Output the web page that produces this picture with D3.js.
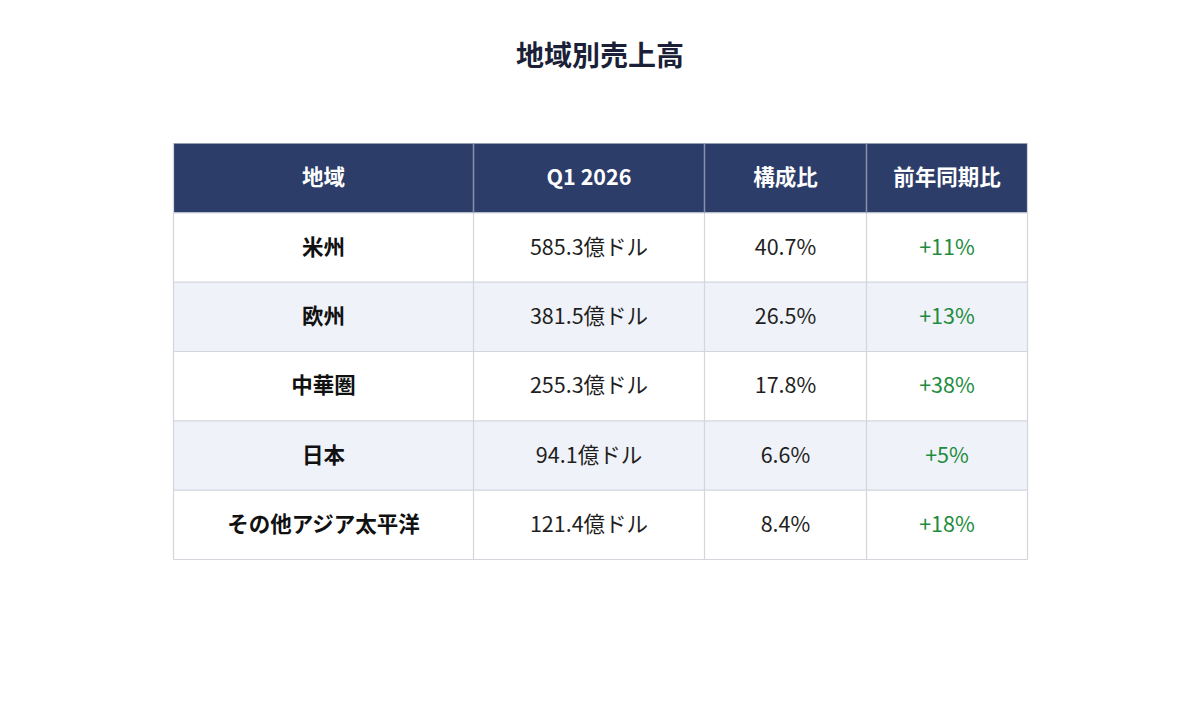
<!DOCTYPE html>
<html>
<head>
<meta charset="utf-8">
<script src="https://cdn.jsdelivr.net/npm/d3@7"></script>
<style>
  html, body { margin: 0; padding: 0; background: #fff; }
  svg { display: block; font-family: "Noto Sans CJK JP", "Noto Sans", sans-serif; }
</style>
</head>
<body>
<div id="chart"></div>
<script>
var headers = ["地域", "Q1 2026", "構成比", "前年同期比"];
var regions = ["米州", "欧州", "中華圏", "日本", "その他アジア太平洋"];
var sales = [585.3, 381.5, 255.3, 94.1, 121.4];
var shares = [40.7, 26.5, 17.8, 6.6, 8.4];
var growth = [11, 13, 38, 5, 18];

(function() {
  var width = 1200, height = 702;
  var tLeft = 173.5, tRight = 1027.5, tTop = 143.5, tBottom = 559.5;
  var colWidths = [300, 231, 162, 161];

  var svg = d3.select("#chart").append("svg")
      .attr("width", width)
      .attr("height", height);

  svg.append("text")
      .attr("x", width / 2)
      .attr("y", 54)
      .attr("text-anchor", "middle")
      .attr("dominant-baseline", "central")
      .style("font-size", "28px")
      .style("font-weight", 700)
      .style("fill", "#1b1f38")
      .text("地域別売上高");

  // column edges from widths
  var edges = [0];
  colWidths.forEach(function(w, i) { edges.push(edges[i] + w); });
  var x = d3.scaleLinear().domain([0, edges[edges.length - 1]]).range([tLeft, tRight]);

  var rowKeys = ["header"].concat(regions);
  var y = d3.scaleBand().domain(rowKeys).range([tTop, tBottom]);

  var rows = regions.map(function(r, i) {
    return [r, sales[i] + "億ドル", shares[i].toFixed(1) + "%", "+" + growth[i] + "%"];
  });

  // row backgrounds
  svg.selectAll(".rowbg")
      .data(rowKeys)
    .enter().append("rect")
      .attr("class", "rowbg")
      .attr("x", tLeft)
      .attr("y", function(d) { return y(d); })
      .attr("width", tRight - tLeft)
      .attr("height", y.bandwidth())
      .style("fill", function(d, i) {
        if (i === 0) return "#2c3d69";
        return i % 2 === 0 ? "#eff2f8" : "#ffffff";
      });

  // horizontal grid lines
  svg.selectAll(".hline")
      .data(rowKeys.slice(1).concat(["end"]))
    .enter().append("line")
      .attr("x1", tLeft).attr("x2", tRight)
      .attr("y1", function(d) { return d === "end" ? tBottom : y(d); })
      .attr("y2", function(d) { return d === "end" ? tBottom : y(d); })
      .style("stroke", "#d3d6dc")
      .style("stroke-width", 1.2);

  // vertical grid lines
  svg.selectAll(".vline")
      .data(edges)
    .enter().append("line")
      .attr("x1", function(d) { return x(d); })
      .attr("x2", function(d) { return x(d); })
      .attr("y1", tTop).attr("y2", tBottom)
      .style("stroke", "#d3d6dc")
      .style("stroke-width", 1.2);

  // header separators, lighter over the navy band
  svg.selectAll(".hsep")
      .data(edges.slice(1, -1))
    .enter().append("line")
      .attr("x1", function(d) { return x(d); })
      .attr("x2", function(d) { return x(d); })
      .attr("y1", tTop).attr("y2", y("header") + y.bandwidth())
      .style("stroke", "#8891ab")
      .style("stroke-width", 1.2);

  function colCenter(j) { return (x(edges[j]) + x(edges[j + 1])) / 2; }
  var lift = -2.5;

  // header text
  svg.selectAll(".htext")
      .data(headers)
    .enter().append("text")
      .attr("x", function(d, j) { return colCenter(j); })
      .attr("y", y("header") + y.bandwidth() / 2 + lift)
      .attr("text-anchor", "middle")
      .attr("dominant-baseline", "central")
      .style("font-size", "21.5px")
      .style("font-weight", 700)
      .style("fill", "#ffffff")
      .text(function(d) { return d; });

  // body text
  rows.forEach(function(row, i) {
    svg.selectAll(".cell" + i)
        .data(row)
      .enter().append("text")
        .attr("x", function(d, j) { return colCenter(j); })
        .attr("y", y(regions[i]) + y.bandwidth() / 2 + lift)
        .attr("text-anchor", "middle")
        .attr("dominant-baseline", "central")
        .style("font-size", "21.5px")
        .style("font-weight", function(d, j) { return j === 0 ? 700 : 400; })
        .style("fill", function(d, j) {
          if (j === 3) return "#1e8c3e";
          return j === 0 ? "#111111" : "#1f1f1f";
        })
        .text(function(d) { return d; });
  });
})();
</script>
</body>
</html>
